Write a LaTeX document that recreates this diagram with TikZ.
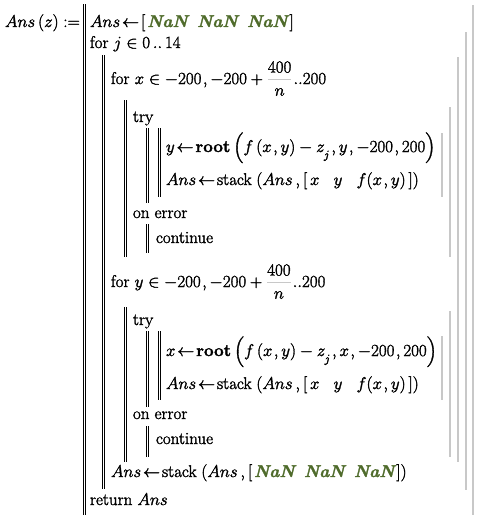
\RequirePackage{fix-cm}
\documentclass[tikz,border=0pt]{standalone}
\usepackage{amsmath,amssymb}
\usepackage{xcolor}
\definecolor{nangreen}{RGB}{79,107,43}
\definecolor{bargray}{RGB}{200,200,200}
\newcommand{\NaNv}{\text{\textcolor{nangreen}{\bfseries\itshape NaN}}}
\newcommand{\jsub}{z_{\lower4pt\hbox{$\scriptstyle j$}}}
\newcommand{\fracn}{{\color{bargray}\dfrac{\color{black}400}{\color{black}n}}}
\newcommand{\getsA}{\mkern2mu{\leftarrow}\mkern2mu}
\newcommand{\cm}{\mkern1.5mu,}
\tikzset{
  txt/.style={inner sep=0pt, outer sep=0pt, anchor=base west, font=\fontsize{17}{20}\selectfont\special{pdf:literal direct 2 Tr 0.3 w}},
  pbar/.style={draw=black, double=white, double distance=1.3pt, line width=0.9pt},
  gbar/.style={draw=bargray, line width=1.6pt}
}
\begin{document}
\begin{tikzpicture}[x=1pt,y=-1pt]
\useasboundingbox (0,0) rectangle (482,522);
% left program bars
\draw[pbar] (84.5,4) -- (84.5,515);
\draw[pbar] (103.5,55) -- (103.5,489);
\draw[pbar] (125.5,100) -- (125.5,257);
\draw[pbar] (147.5,128) -- (147.5,203);
\draw[pbar] (159.5,128) -- (159.5,197);
\draw[pbar] (147.5,224) -- (147.5,253);
\draw[pbar] (125.5,307) -- (125.5,462);
\draw[pbar] (147.5,331) -- (147.5,407);
\draw[pbar] (159.5,331) -- (159.5,400);
\draw[pbar] (147.5,426) -- (147.5,457);
% right gray bars
\draw[gbar] (473,5) -- (473,515);
\draw[gbar] (466,32) -- (466,490);
\draw[gbar] (458,57) -- (458,462);
\draw[gbar] (450,107) -- (450,257);
\draw[gbar] (442,133) -- (442,197);
\draw[gbar] (450,311) -- (450,457);
\draw[gbar] (442,336) -- (442,400);
% text
\node[txt] (def) at (5,27) {$Ans\,(z)\mathrel{:=}$};
\node[txt] (l1) at (90,27) {$Ans \getsA [\mkern2mu\NaNv\;\;\NaNv\;\;\NaNv\mkern2mu]$};
\node[txt] (l2) at (90,48) {for $j \in 0\,..\,14$};
\node[txt] (l3) at (111,84) {for $x \in -200\cm-200+\fracn\mkern1mu..200$};
\node[txt] (l4) at (133,122) {try};
\node[txt] (l5) at (166,152) {$y \getsA \mathbf{root}\left(f\,(x\cm y)-\jsub\cm y\cm-200\cm200\right)$};
\node[txt] (l6) at (166,185) {$Ans \getsA \mathrm{stack}\;(Ans\,,[\,x\;\;\;y\;\;\;f(x\cm y)\,])$};
\node[txt] (l7) at (133,218) {on error};
\node[txt] (l8) at (156,243) {continue};
\node[txt] (l9) at (111,287) {for $y \in -200\cm-200+\fracn\mkern1mu..200$};
\node[txt] (l10) at (133,325) {try};
\node[txt] (l11) at (166,356) {$x \getsA \mathbf{root}\left(f\,(x\cm y)-\jsub\cm x\cm-200\cm200\right)$};
\node[txt] (l12) at (166,389) {$Ans \getsA \mathrm{stack}\;(Ans\,,[\,x\;\;\;y\;\;\;f(x\cm y)\,])$};
\node[txt] (l13) at (133,419) {on error};
\node[txt] (l14) at (156,444) {continue};
\node[txt] (l15) at (111,477) {$Ans \getsA \mathrm{stack}\;(Ans\,,[\mkern2mu\NaNv\;\;\NaNv\;\;\NaNv\mkern2mu])$};
\node[txt] (l16) at (90,505) {return $Ans$};
\end{tikzpicture}
\end{document}
